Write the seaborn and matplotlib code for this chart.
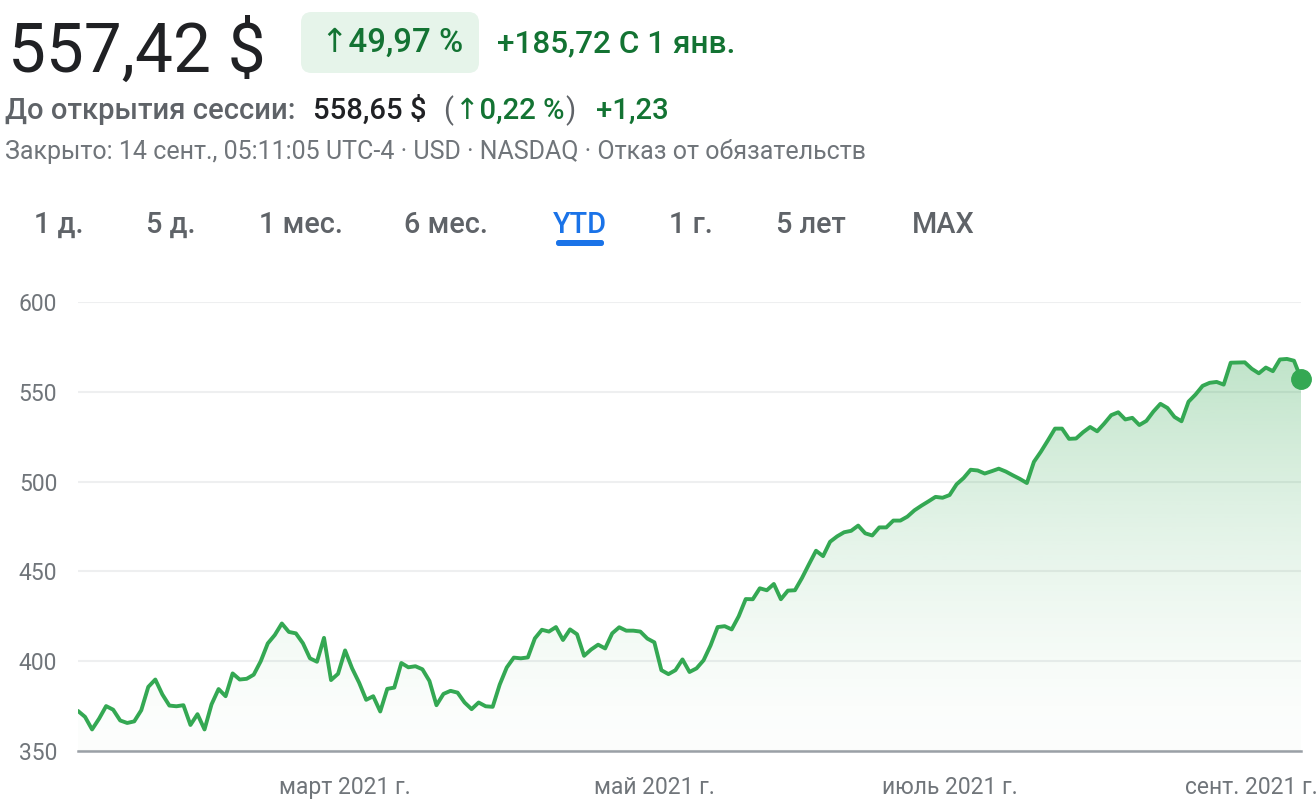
import numpy as np
import pandas as pd
import matplotlib
matplotlib.use("Agg")
import matplotlib.pyplot as plt
import seaborn as sns
from matplotlib.patches import FancyBboxPatch, Polygon

# ---------------- data ----------------
holidays = ["2021-01-18", "2021-02-15", "2021-04-02", "2021-05-31", "2021-07-05", "2021-09-06"]
dates = pd.bdate_range("2021-01-04", "2021-09-13", freq="C", holidays=holidays)

prices = [
    372.3, 369.0, 362.0, 368.0, 375.0, 373.0, 367.0, 365.6, 366.5, 372.7,
    385.7, 389.8, 381.5, 375.3, 374.9, 375.5, 364.5, 370.5, 362.0, 376.0,
    384.5, 380.5, 393.2, 389.8, 390.2, 392.5, 400.0, 409.9, 414.6, 421.0,
    416.3, 415.5, 410.0, 401.6, 399.7, 413.0, 389.5, 393.0, 406.0, 396.0,
    388.0, 378.5, 380.5, 372.0, 384.6, 385.3, 399.0, 396.6, 397.2, 395.5,
    389.0, 375.5, 381.8, 383.5, 382.5, 377.0, 373.3, 377.0, 374.9, 374.6,
    387.0, 396.5, 402.0, 401.6, 402.1, 412.7, 417.5, 416.5, 419.0, 411.8,
    417.7, 415.0, 403.0, 406.5, 409.2, 407.1, 415.5, 418.9, 417.0, 417.0,
    416.5, 412.6, 410.5, 395.0, 392.8, 395.0, 401.0, 394.0, 396.0, 400.5,
    408.8, 419.0, 419.5, 417.7, 425.0, 434.6, 434.5, 440.6, 439.5, 443.0,
    434.5, 439.3, 439.5, 446.3, 454.0, 461.5, 458.5, 466.5, 469.5, 471.8,
    472.6, 475.5, 471.2, 470.0, 474.5, 474.5, 478.3, 478.3, 480.5, 484.0,
    486.6, 489.0, 491.5, 491.0, 492.5, 498.5, 502.0, 506.6, 506.2, 504.5,
    505.8, 507.2, 505.6, 503.5, 501.5, 499.2, 511.0, 516.7, 523.0, 529.5,
    529.5, 523.8, 524.0, 527.5, 530.4, 528.0, 532.3, 537.0, 538.6, 534.6,
    535.5, 531.5, 533.8, 539.0, 543.3, 541.0, 536.0, 533.6, 544.5, 548.5,
    553.3, 555.0, 555.5, 554.0, 566.2, 566.3, 566.4, 562.8, 560.3, 563.5,
    561.5, 568.0, 568.3, 567.3, 557.4,
]

tick_months = ["2021-03", "2021-05", "2021-07", "2021-09"]
tick_labels = ["март 2021 г.", "май 2021 г.", "июль 2021 г.", "сент. 2021 г."]
y_ticks = [350, 400, 450, 500, 550, 600]

price_text = "557,42 $"
change_pct_text = "↑49,97 %"
change_abs_text = "+185,72 С 1 янв."
pre_label = "До открытия сессии:"
pre_price = "558,65 $"
pre_pct = "↑0,22 %"
pre_abs = "+1,23"
status_text = "Закрыто: 14 сент., 05:11:05 UTC-4 · USD · NASDAQ · Отказ от обязательств"
tabs = ["1 д.", "5 д.", "1 мес.", "6 мес.", "YTD", "1 г.", "5 лет", "MAX"]
active_tab = "YTD"

# ---------------- style ----------------
sns.set_theme(style="white")
FONT = ["Roboto", "DejaVu Sans"]
plt.rcParams["font.family"] = FONT

GREEN = "#34a853"
DKGREEN = "#137333"
GRAY = "#70757a"
DGRAY = "#5f6368"
BLACK = "#202124"
BLUE = "#1a73e8"

W, H = 1316, 800
fig = plt.figure(figsize=(W / 100, H / 100), dpi=100)
fig.patch.set_facecolor("white")
renderer = fig.canvas.get_renderer()


def fx(px):
    return px / W


def fy(py):
    return 1 - py / H


def fit_text(x0, x1, ybase, s, color, weight="normal", guess=16):
    t = fig.text(fx(x0), fy(ybase), s, color=color, fontsize=guess,
                 fontweight=weight, va="baseline", ha="left", family=FONT)
    w = t.get_window_extent(renderer).width
    t.set_fontsize(guess * (x1 - x0) / w)
    return t


def put_text(x0, ybase, s, color, size, weight="normal", ha="left"):
    return fig.text(fx(x0), fy(ybase), s, color=color, fontsize=size,
                    fontweight=weight, va="baseline", ha=ha, family=FONT)


# ---------------- header ----------------
fit_text(8, 266, 72, price_text, BLACK, guess=50)
badge = FancyBboxPatch((fx(301), fy(73)), fx(479) - fx(301), fy(12) - fy(73),
                       boxstyle="round,pad=0,rounding_size=0.008",
                       transform=fig.transFigure, facecolor="#e6f4ea",
                       edgecolor="none", mutation_aspect=W / H)
fig.patches.append(badge)
fit_text(321, 463, 52, change_pct_text, DKGREEN, weight="medium", guess=20)
fit_text(497, 735, 52, change_abs_text, DKGREEN, weight="medium", guess=20)

t2 = fit_text(5, 297, 119, pre_label, DGRAY, weight="medium", guess=18)
s2 = t2.get_fontsize()
put_text(313, 119, pre_price, BLACK, s2, weight="medium")
put_text(443, 119, "(", DGRAY, s2)
put_text(455, 119, pre_pct, DKGREEN, s2, weight="medium")
put_text(565, 119, ")", DGRAY, s2)
put_text(596, 119, pre_abs, DKGREEN, s2, weight="medium")

fit_text(5, 870, 159, status_text, GRAY, guess=15)

# tabs
tab_pos = [(37, 80), (147, 195), (261, 340), (405, 487), (553, 606), (671, 710), (776, 846), (912, 975)]
tt = fit_text(912, 975, 233, "MAX", DGRAY, weight="medium", guess=18)
tsize = tt.get_fontsize()
tt.remove()
for (a, b), name in zip(tab_pos, tabs):
    col = BLUE if name == active_tab else DGRAY
    put_text((a + b) / 2, 233, name, col, tsize, weight="medium", ha="center")
under = FancyBboxPatch((fx(556), fy(246)), fx(604) - fx(556), fy(240) - fy(246),
                       boxstyle="round,pad=0,rounding_size=0.002",
                       transform=fig.transFigure, facecolor=BLUE, edgecolor="none",
                       mutation_aspect=W / H)
fig.patches.append(under)

# ---------------- chart ----------------
ax = fig.add_axes([fx(78), 1 - 751 / H, (1301 - 78) / W, (751 - 302) / H])
ax.set_facecolor("white")
n = len(prices)
df = pd.DataFrame({"i": np.arange(n), "price": prices, "date": dates[:n]})

# gradient fill under line
rgb = matplotlib.colors.to_rgb(GREEN)
tvals = np.linspace(0, 1, 256)
grad = np.zeros((256, 1, 4))
grad[..., 0], grad[..., 1], grad[..., 2] = rgb
grad[:, 0, 3] = 0.012 + 0.30 * tvals ** 1.5
top = max(prices)
im = ax.imshow(grad, extent=[0, n - 1, 350, top], origin="lower", aspect="auto",
               interpolation="bilinear", zorder=1)
verts = [(0, 350)] + list(zip(df["i"], df["price"])) + [(n - 1, 350)]
poly = Polygon(verts, closed=True, facecolor="none", edgecolor="none", transform=ax.transData)
ax.add_patch(poly)
im.set_clip_path(poly)

sns.lineplot(data=df, x="i", y="price", ax=ax, color=GREEN, linewidth=2.8, zorder=3)
for ln in ax.lines:
    ln.set_solid_joinstyle("round")
    ln.set_solid_capstyle("round")
ax.plot([df["i"].iloc[-1]], [df["price"].iloc[-1]], "o", color=GREEN, markersize=14,
        clip_on=False, zorder=4)

ax.set_xlim(0, n - 1)
ax.set_ylim(350, 600)
ax.set_yticks(y_ticks)
ax.set_yticklabels([str(v) for v in y_ticks])
month_str = df["date"].dt.strftime("%Y-%m")
xpos = [int(df.index[month_str == m][0]) for m in tick_months]
ax.set_xticks(xpos)
ax.set_xticklabels(tick_labels)
ax.set_xlabel("")
ax.set_ylabel("")
ax.grid(axis="y", color="#eeeff0", linewidth=1.5, zorder=0)
ax.grid(axis="x", visible=False)
for side in ["top", "right", "left"]:
    ax.spines[side].set_visible(False)
ax.spines["bottom"].set_color("#9aa0a6")
ax.spines["bottom"].set_linewidth(1.8)
ax.spines["bottom"].set_zorder(5)
ax.tick_params(axis="x", direction="out", length=7, width=1.8, color="#9aa0a6",
               labelcolor=GRAY, labelsize=16.5, pad=11)
ax.tick_params(axis="y", length=0, labelcolor=GRAY, labelsize=16.5, pad=15)
for lab in ax.get_xticklabels() + ax.get_yticklabels():
    lab.set_family(FONT)

fig.savefig("out.png", dpi=100, facecolor="white")
